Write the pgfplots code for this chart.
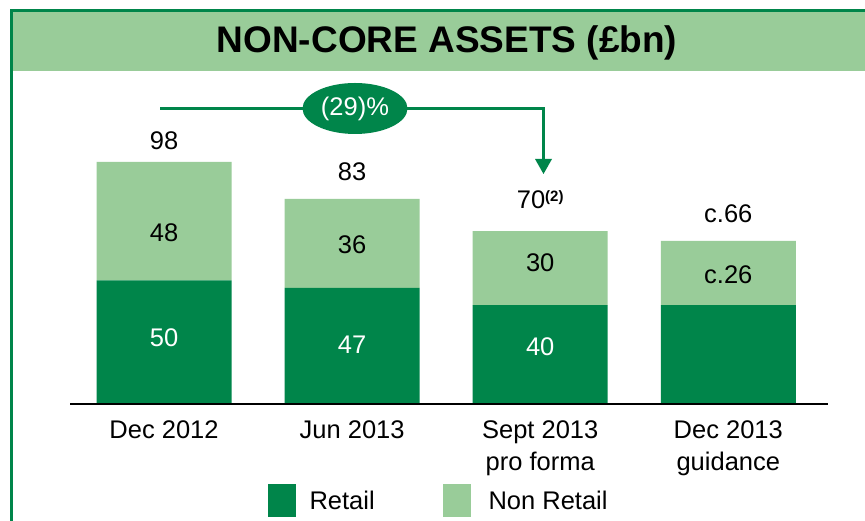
\documentclass[border=0pt]{standalone}
\usepackage{pgfplots}
\pgfplotsset{compat=1.18}
\usepackage{fontspec}
\setmainfont{Liberation Sans}
\definecolor{dkgreen}{RGB}{0,133,74}
\definecolor{ltgreen}{RGB}{153,204,153}
\newcommand{\lbl}{\fontsize{25.5}{32}\selectfont}
\begin{document}
\begin{tikzpicture}
\begin{scope}[x=1pt,y=1pt]
\path[use as bounding box, fill=white] (0,0) rectangle (865,521);
\fill[ltgreen] (12,450) rectangle (865,509);
\fill[dkgreen] (10,509) rectangle (865,512);
\fill[dkgreen] (10,0) rectangle (13,512);
\node[font=\fontsize{37}{44}\selectfont\bfseries] at (447,478) {NON-CORE ASSETS (£bn)};
\end{scope}
\begin{axis}[at={(70pt,117pt)}, anchor=south west, scale only axis,
  width=758pt, height=247pt, xmin=-0.5, xmax=3.53, ymin=0, ymax=100,
  ybar stacked, bar width=135pt,
  axis y line=none, axis x line*=bottom, axis on top,
  x axis line style={-, line width=2.5pt, black},
  xtick={0,1,2,3},
  xticklabels={Dec 2012, Jun 2013, Sept 2013\\pro forma, Dec 2013\\guidance},
  xticklabel style={align=center, font=\lbl, yshift=-13pt},
  major tick length=0pt, clip=false]
\addplot[fill=dkgreen, draw=none] coordinates {(0,50) (1,47) (2,40) (3,40)};
\addplot[fill=ltgreen, draw=none] coordinates {(0,48) (1,36) (2,30) (3,26)};
\coordinate (a0) at (axis cs:0,26.7);
\coordinate (a1) at (axis cs:1,23.9);
\coordinate (a2) at (axis cs:2,23.1);
\coordinate (b0) at (axis cs:0,69.2);
\coordinate (b1) at (axis cs:1,64.4);
\coordinate (b2) at (axis cs:2,57.1);
\coordinate (b3) at (axis cs:3,52.2);
\coordinate (t0) at (axis cs:0,106.5);
\coordinate (t1) at (axis cs:1,93.9);
\coordinate (t2) at (axis cs:2,82.6);
\coordinate (t3) at (axis cs:3,76.9);
\end{axis}
\node[font=\lbl, text=white] at (a0) {50};
\node[font=\lbl, text=white] at (a1) {47};
\node[font=\lbl, text=white] at (a2) {40};
\node[font=\lbl] at (b0) {48};
\node[font=\lbl] at (b1) {36};
\node[font=\lbl] at (b2) {30};
\node[font=\lbl] at (b3) {c.26};
\node[font=\lbl] at (t0) {98};
\node[font=\lbl] at (t1) {83};
\node[font=\lbl] at (t2) {70\raisebox{0.55ex}{\fontsize{15}{15}\selectfont\bfseries(2)}};
\node[font=\lbl] at (t3) {c.66};
\begin{scope}[x=1pt,y=1pt]
\draw[dkgreen, line width=3.5pt] (160,412.5) -- (543.5,412.5) -- (543.5,360);
\fill[dkgreen] (535,362) -- (552,362) -- (543.5,347) -- cycle;
\fill[dkgreen] (355,412.5) ellipse [x radius=52.5, y radius=25.5];
\node[font=\lbl, text=white] at (355,412.5) {(29)\%};
\fill[dkgreen] (268,4) rectangle (296,37);
\node[anchor=west, font=\lbl] at (306,21) {Retail};
\fill[ltgreen] (443,4) rectangle (471,37);
\node[anchor=west, font=\lbl] at (485,21) {Non Retail};
\end{scope}
\end{tikzpicture}
\end{document}
